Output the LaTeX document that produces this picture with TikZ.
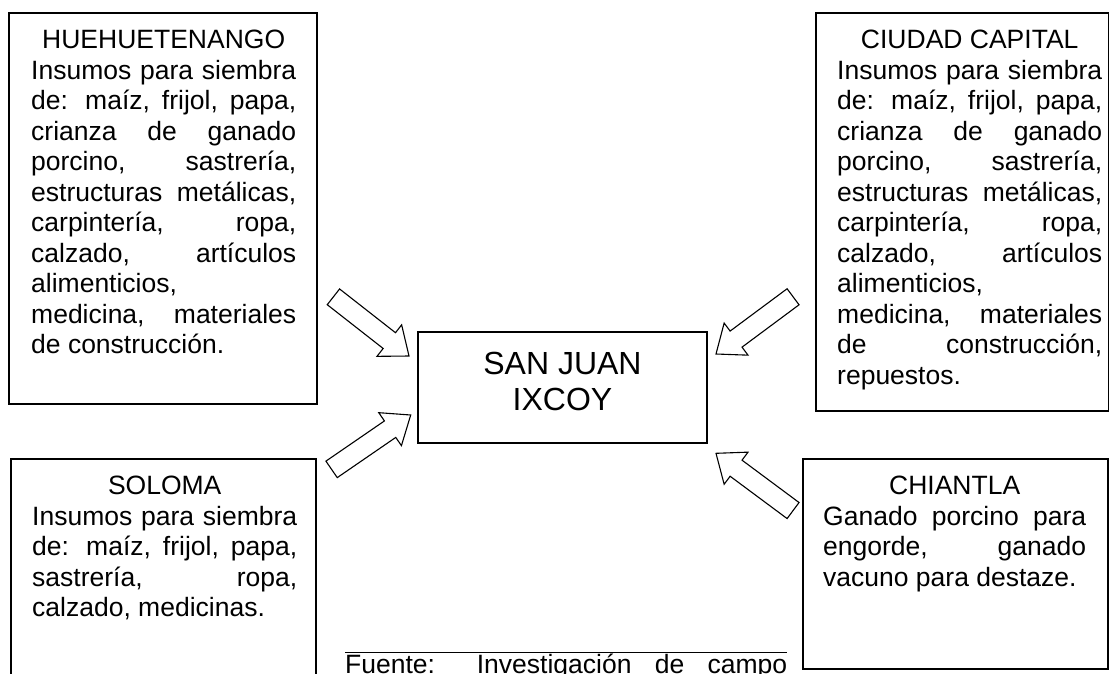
\documentclass[tikz,border=0pt]{standalone}
\usepackage{fontspec}
\setmainfont{Liberation Sans}
\newcommand\jline[1]{\makebox[\linewidth][s]{#1}\par}
\newcommand\lline[1]{\makebox[\linewidth][l]{#1}\par}
\newcommand\ctline[1]{\makebox[\linewidth][c]{#1}\par}
\newcommand\bodyfont{\fontsize{26.5}{30.5}\selectfont}
\tikzset{
  box/.style={draw, line width=1.2pt, inner sep=0pt, fill=white},
  txt/.style={anchor=base west, inner sep=0pt},
  barrow/.pic={\draw[line width=1.1pt, fill=white, line join=miter]
    (0,0) -- (-25,20) -- (-25,10) -- (-96,10) -- (-96,-10) -- (-25,-10) -- (-25,-20) -- cycle;}
}
\begin{document}
\begin{tikzpicture}[x=1pt,y=-1pt]
\useasboundingbox (0,0) rectangle (1110,673);
\clip (0,0) rectangle (1110,673);
\fill[white] (0,0) rectangle (1110,673);

% boxes
\node[box, minimum width=308pt, minimum height=391pt] (hue) at (163,208.5) {};
\node[box, minimum width=292.5pt, minimum height=398pt] (cap) at (962.25,212) {};
\node[box, minimum width=305pt, minimum height=240pt] (sol) at (163.5,579) {};
\node[box, minimum width=305pt, minimum height=210pt] (chi) at (955.5,564) {};
\node[box, minimum width=289pt, minimum height=111pt] (sj) at (562.5,387.5) {};

% texts
\node[txt] (huet) at (31,48.5) {\parbox[t]{265pt}{\bodyfont
\ctline{HUEHUETENANGO}
\jline{Insumos para siembra}
\jline{de: maíz, frijol, papa,}
\jline{crianza de ganado}
\jline{porcino, sastrería,}
\jline{estructuras metálicas,}
\jline{carpintería, ropa,}
\jline{calzado, artículos}
\lline{alimenticios,}
\jline{medicina, materiales}
\lline{de construcción.}}};

\node[txt] (capt) at (837,48.5) {\parbox[t]{265pt}{\bodyfont
\ctline{CIUDAD CAPITAL}
\jline{Insumos para siembra}
\jline{de: maíz, frijol, papa,}
\jline{crianza de ganado}
\jline{porcino, sastrería,}
\jline{estructuras metálicas,}
\jline{carpintería, ropa,}
\jline{calzado, artículos}
\lline{alimenticios,}
\jline{medicina, materiales}
\jline{de construcción,}
\lline{repuestos.}}};

\node[txt] (solt) at (32,494.5) {\parbox[t]{265pt}{\bodyfont
\ctline{SOLOMA}
\jline{Insumos para siembra}
\jline{de: maíz, frijol, papa,}
\jline{sastrería, ropa,}
\lline{calzado, medicinas.}}};

\node[txt] (chit) at (823,494.5) {\parbox[t]{263pt}{\bodyfont
\ctline{CHIANTLA}
\jline{Ganado porcino para}
\jline{engorde, ganado}
\lline{vacuno para destaze.}}};

\node[anchor=base, inner sep=0pt] (sjt) at (562.5,374) {\parbox[t]{280pt}{\centering\fontsize{32}{36.8}\selectfont SAN JUAN\\IXCOY}};

% source rule and text
\coordinate (r1) at (345,652.7);
\coordinate (r2) at (787,652.7);
\draw[line width=1.2pt] (r1) -- (r2);
\node[txt] (src) at (345,673) {\parbox[t]{442pt}{\bodyfont\jline{Fuente: Investigación de campo}}};

% block arrows
\coordinate (a1) at (409,356);
\coordinate (a2) at (716,354);
\coordinate (a3) at (410.7,415);
\coordinate (a4) at (716,453.3);
\pic[rotate=-38.06] at (a1) {barrow};
\pic[rotate=-143.4] at (a2) {barrow};
\pic[rotate=34.5] at (a3) {barrow};
\pic[rotate=143.4] at (a4) {barrow};
\end{tikzpicture}
\end{document}
